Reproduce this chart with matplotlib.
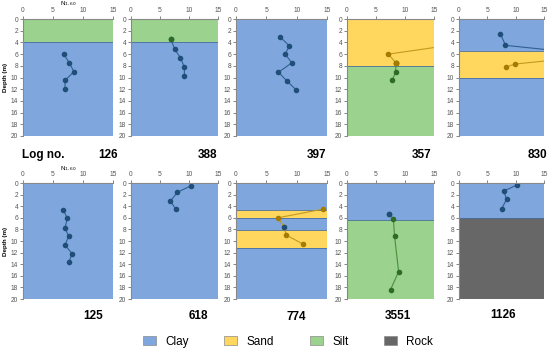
import matplotlib
matplotlib.use('Agg')
import matplotlib.pyplot as plt
from matplotlib.patches import Patch

# цвета слоёв
CLAY = '#7fa7de'
SAND = '#ffd75f'
SILT = '#9bd28e'
ROCK = '#676767'
LAYER_COL = {'Clay': CLAY, 'Sand': SAND, 'Silt': SILT, 'Rock': ROCK}
PT_COL = {'Clay': '#1f4e79', 'Sand': '#a77a00', 'Silt': '#2e6b25'}
LN_COL = {'Clay': '#2f5f94', 'Sand': '#c39a1c', 'Silt': '#4a8f3e'}

log_names = ['126', '388', '397', '357', '830', '125', '618', '774', '3551', '1126']

# слои: (верх, низ, тип)
layers = [
    [(0, 4, 'Silt'), (4, 20, 'Clay')],
    [(0, 4, 'Silt'), (4, 20, 'Clay')],
    [(0, 20, 'Clay')],
    [(0, 8, 'Sand'), (8, 20, 'Silt')],
    [(0, 5.5, 'Clay'), (5.5, 10.1, 'Sand'), (10.1, 20, 'Clay')],
    [(0, 20, 'Clay')],
    [(0, 20, 'Clay')],
    [(0, 4.6, 'Clay'), (4.6, 6.1, 'Sand'), (6.1, 8.1, 'Clay'), (8.1, 11.2, 'Sand'), (11.2, 20, 'Clay')],
    [(0, 6.3, 'Clay'), (6.3, 20, 'Silt')],
    [(0, 6.1, 'Clay'), (6.1, 20, 'Rock')],
]

# серии N1,60: (тип, N, глубина)
series = [
    [('Clay', [6.8, 7.7, 8.5, 7.0, 7.0], [6.0, 7.5, 9.0, 10.5, 12.0])],
    [('Clay', [6.9, 7.5, 8.5, 9.2, 9.2], [3.5, 5.1, 6.6, 8.2, 9.7])],
    [('Clay', [7.3, 8.8, 8.1, 9.2, 7.0, 8.4, 9.9], [3.1, 4.6, 6.0, 7.5, 9.1, 10.6, 12.1])],
    [('Sand', [24.0, 7.15, 8.4], [3.6, 6.0, 7.5]),
     ('Silt', [8.4, 8.4, 7.8], [7.5, 9.0, 10.5])],
    [('Clay', [7.3, 8.2, 25.0], [2.5, 4.5, 6.2]),
     ('Sand', [8.3, 9.9, 25.0], [8.2, 7.7, 6.2])],
    [('Clay', [6.7, 7.4, 7.0, 7.6, 7.0, 8.2, 7.6], [4.6, 6.1, 7.7, 9.2, 10.7, 12.2, 13.7])],
    [('Clay', [10.3, 8.0, 6.8, 7.7], [0.5, 1.6, 3.1, 4.5])],
    [('Sand', [14.4, 6.9, 7.9, 8.3, 11.0], [4.5, 6.0, 7.5, 9.0, 10.5])],
    [('Silt', [7.3, 8.0, 8.2, 8.9, 7.5], [5.3, 6.2, 9.2, 15.3, 18.4])],
    [('Clay', [10.2, 7.9, 8.4, 7.5], [0.35, 1.4, 2.8, 4.5])],
]

# отдельные точки другого цвета (граница слоёв)
special_pts = {1: [('Silt', 6.9, 3.5)], 3: [('Sand', 8.4, 7.5)],
               7: [('Clay', 7.9, 7.5)], 8: [('Clay', 7.3, 5.3)]}

W, H = 550, 350
fig = plt.figure(figsize=(W / 100, H / 100), dpi=100)
plt.rcParams['font.family'] = ['Liberation Sans', 'DejaVu Sans']

lefts = [23, 131, 236, 347, 459]
widths = [90, 87, 91, 87, 85]
rows = [(19, 136), (183, 299)]

for i in range(10):
    r, c = divmod(i, 5)
    top, bot = rows[r]
    ax = fig.add_axes([lefts[c] / W, 1 - bot / H, widths[c] / W, (bot - top) / H])
    for t, b, kind in layers[i]:
        ax.axhspan(t, b, color=LAYER_COL[kind], lw=0)
        if t > 0:
            ax.axhline(t, color='#4a6e9c', lw=0.6)
    for kind, xs, ys in series[i]:
        ax.plot(xs, ys, '-', color=LN_COL[kind], lw=0.8, clip_on=True)
        ax.plot(xs, ys, 'o', color=PT_COL[kind], ms=3, clip_on=True)
    for kind, x, y in special_pts.get(i, []):
        ax.plot(x, y, 'o', color=PT_COL[kind], ms=3)
    ax.set_xlim(0, 15)
    ax.set_ylim(20, 0)
    ax.set_xticks([0, 5, 10, 15])
    ax.set_yticks(range(0, 21, 2))
    ax.xaxis.tick_top()
    ax.tick_params(labelsize=4.8, length=2, width=0.5, colors='#555555', pad=1.5)
    for s in ['right', 'bottom']:
        ax.spines[s].set_visible(False)
    for s in ['top', 'left']:
        ax.spines[s].set_color('#888888')
        ax.spines[s].set_linewidth(0.8)
    if c == 0:
        ax.set_ylabel('Depth (m)', fontsize=4.5, fontweight='bold', labelpad=2)
        ax.text(0.5, 1.09, 'N$_{1,60}$', transform=ax.transAxes, fontsize=4.5,
                ha='center', va='bottom')

# подписи номеров
name_pos = [(108, 155), (208, 155), (317, 155), (422, 155), (537, 155),
            (93, 316), (198, 316), (296, 317), (398, 316), (503, 315)]
for name, (x, y) in zip(log_names, name_pos):
    fig.text(x / W, 1 - y / H, name, fontsize=8.5, fontweight='bold', ha='center', va='center')
fig.text(22 / W, 1 - 155 / H, 'Log no.', fontsize=8.5, fontweight='bold', ha='left', va='center')

handles = [Patch(facecolor=LAYER_COL[k], edgecolor='#8a8a8a', lw=0.5) for k in ['Clay', 'Sand', 'Silt', 'Rock']]
fig.legend(handles, ['Clay', 'Sand', 'Silt', 'Rock'], loc='center', ncol=4,
           bbox_to_anchor=(288 / W, 1 - 342 / H), frameon=False, fontsize=8.5,
           columnspacing=3.0, handlelength=1.1, handleheight=0.8, handletextpad=0.8)

plt.savefig('out.png', dpi=100)
plt.close(fig)
